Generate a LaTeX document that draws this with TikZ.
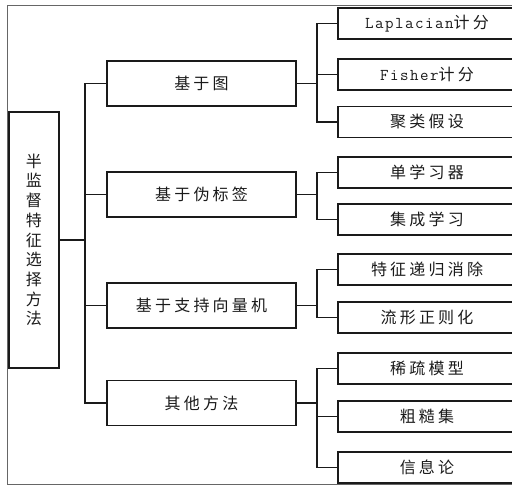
\documentclass[tikz,border=0pt]{standalone}
\usepackage{fontspec}
\newfontfamily\cjk[LetterSpace=20]{Noto Sans CJK SC}
\newfontfamily\lat[LetterSpace=9]{Latin Modern Mono}
\definecolor{ink}{HTML}{1A1A1A}
\begin{document}
\begin{tikzpicture}[x=1pt,y=-1pt,
  every node/.style={text=ink,font=\fontsize{16}{19.7}\cjk},
  rootbox/.style={draw=ink,line width=1.1pt,minimum width=50pt,minimum height=256pt,inner sep=0pt,align=center},
  catbox/.style={draw=ink,line width=1.1pt,minimum width=189pt,minimum height=45pt,inner sep=0pt},
  leafbox/.style={draw=ink,line width=1.1pt,minimum width=178pt,minimum height=31pt,inner sep=0pt},
  link/.style={draw=ink,line width=1.1pt}]
\useasboundingbox (0,0) rectangle (512,486);
\draw[gray!80!black,line width=0.9pt] (7,5) -- (530,5) (7,5) -- (7,484) -- (530,484);
% root
\node[rootbox] (root) at (34,240) {半\\监\\督\\特\\征\\选\\择\\方\\法};
% level 1
\node[catbox] (c1) at (201.5,83.5) {基于图};
\node[catbox] (c2) at (201.5,194.5) {基于伪标签};
\node[catbox] (c3) at (201.5,305.5) {基于支持向量机};
\node[catbox] (c4) at (201.5,403) {其他方法};
% level 2
\node[leafbox] (a1) at (427,23.5) {{\lat\fontsize{16.5}{19.7}\selectfont Laplacian}计分};
\node[leafbox] (a2) at (427,74.5) {{\lat\fontsize{16.5}{19.7}\selectfont Fisher}计分};
\node[leafbox] (a3) at (427,122) {聚类假设};
\node[leafbox] (b1) at (427,172.5) {单学习器};
\node[leafbox] (b2) at (427,219.5) {集成学习};
\node[leafbox] (s1) at (427,269.5) {特征递归消除};
\node[leafbox] (s2) at (427,317.5) {流形正则化};
\node[leafbox] (o1) at (427,368.5) {稀疏模型};
\node[leafbox] (o2) at (427,416.5) {粗糙集};
\node[leafbox] (o3) at (427,467.5) {信息论};
% junctions
\coordinate (j0) at (85,240);
\coordinate (j1) at (317,83.5);
\coordinate (j2) at (317,194.5);
\coordinate (j3) at (317,305.5);
\coordinate (j4) at (317,403);
% connectors
\foreach \c in {c1,c2,c3,c4} \draw[link] (root.east) -- (j0) |- (\c.west);
\foreach \c in {a1,a2,a3} \draw[link] (c1.east) -- (j1) |- (\c.west);
\foreach \c in {b1,b2} \draw[link] (c2.east) -- (j2) |- (\c.west);
\foreach \c in {s1,s2} \draw[link] (c3.east) -- (j3) |- (\c.west);
\foreach \c in {o1,o2,o3} \draw[link] (c4.east) -- (j4) |- (\c.west);
\end{tikzpicture}
\end{document}
